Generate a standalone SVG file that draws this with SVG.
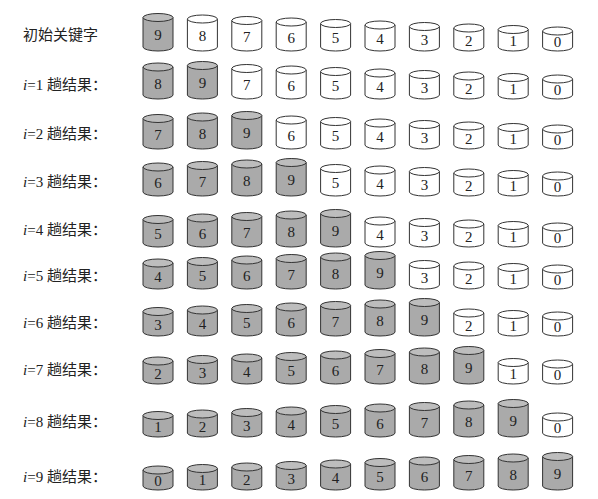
<svg xmlns="http://www.w3.org/2000/svg" width="598" height="499" viewBox="0 0 598 499">
<style>
.cy path{fill:var(--body,#fff);stroke:#333;stroke-width:1}
.cy ellipse{fill:var(--top,#fff);stroke:#333;stroke-width:1}
.g{--body:#aaaaaa;--top:#bdbdbd}
.w{--body:#ffffff;--top:#ffffff}
text.n{font-family:"Liberation Serif",serif;font-size:15px;text-anchor:middle;fill:#222}
text.lb{font-family:"Liberation Serif","Noto Sans CJK SC",serif;font-size:15px;fill:#222}
</style>
<defs>
<g id="v0" class="cy"><path d="M-15,-20 V-4 A15 4 0 0 0 15,-4 V-20"/><ellipse cy="-20" rx="15" ry="4"/></g>
<g id="v1" class="cy"><path d="M-15,-21.5 V-4 A15 4 0 0 0 15,-4 V-21.5"/><ellipse cy="-21.5" rx="15" ry="4"/></g>
<g id="v2" class="cy"><path d="M-15,-23 V-4 A15 4 0 0 0 15,-4 V-23"/><ellipse cy="-23" rx="15" ry="4"/></g>
<g id="v3" class="cy"><path d="M-15,-24.5 V-4 A15 4 0 0 0 15,-4 V-24.5"/><ellipse cy="-24.5" rx="15" ry="4"/></g>
<g id="v4" class="cy"><path d="M-15,-26 V-4 A15 4 0 0 0 15,-4 V-26"/><ellipse cy="-26" rx="15" ry="4"/></g>
<g id="v5" class="cy"><path d="M-15,-27.5 V-4 A15 4 0 0 0 15,-4 V-27.5"/><ellipse cy="-27.5" rx="15" ry="4"/></g>
<g id="v6" class="cy"><path d="M-15,-29 V-4 A15 4 0 0 0 15,-4 V-29"/><ellipse cy="-29" rx="15" ry="4"/></g>
<g id="v7" class="cy"><path d="M-15,-30.5 V-4 A15 4 0 0 0 15,-4 V-30.5"/><ellipse cy="-30.5" rx="15" ry="4"/></g>
<g id="v8" class="cy"><path d="M-15,-32 V-4 A15 4 0 0 0 15,-4 V-32"/><ellipse cy="-32" rx="15" ry="4"/></g>
<g id="v9" class="cy"><path d="M-15,-33.5 V-4 A15 4 0 0 0 15,-4 V-33.5"/><ellipse cy="-33.5" rx="15" ry="4"/></g>
</defs>
<rect width="598" height="499" fill="#fff"/>

<g id="labels">
<text class="lb" x="23" y="40">初始关键字</text>
<text class="lb" x="23" y="90"><tspan font-style="italic">i</tspan>=1 趟结果：</text>
<text class="lb" x="23" y="139"><tspan font-style="italic">i</tspan>=2 趟结果：</text>
<text class="lb" x="23" y="187"><tspan font-style="italic">i</tspan>=3 趟结果：</text>
<text class="lb" x="23" y="235"><tspan font-style="italic">i</tspan>=4 趟结果：</text>
<text class="lb" x="23" y="281"><tspan font-style="italic">i</tspan>=5 趟结果：</text>
<text class="lb" x="23" y="328"><tspan font-style="italic">i</tspan>=6 趟结果：</text>
<text class="lb" x="23" y="375"><tspan font-style="italic">i</tspan>=7 趟结果：</text>
<text class="lb" x="23" y="427"><tspan font-style="italic">i</tspan>=8 趟结果：</text>
<text class="lb" x="23" y="482"><tspan font-style="italic">i</tspan>=9 趟结果：</text>
</g>

<g id="row0">
<g id="r0c0" class="g" transform="translate(158,51)"><use href="#v9"/><text class="n" y="-10.75">9</text></g>
<g id="r0c1" class="w" transform="translate(202.4,51)"><use href="#v8"/><text class="n" y="-10">8</text></g>
<g id="r0c2" class="w" transform="translate(246.8,51)"><use href="#v7"/><text class="n" y="-9.25">7</text></g>
<g id="r0c3" class="w" transform="translate(291.2,51)"><use href="#v6"/><text class="n" y="-8.5">6</text></g>
<g id="r0c4" class="w" transform="translate(335.6,51)"><use href="#v5"/><text class="n" y="-7.75">5</text></g>
<g id="r0c5" class="w" transform="translate(380,51)"><use href="#v4"/><text class="n" y="-7">4</text></g>
<g id="r0c6" class="w" transform="translate(424.4,51)"><use href="#v3"/><text class="n" y="-6.25">3</text></g>
<g id="r0c7" class="w" transform="translate(468.8,51)"><use href="#v2"/><text class="n" y="-5.5">2</text></g>
<g id="r0c8" class="w" transform="translate(513.2,51)"><use href="#v1"/><text class="n" y="-4.75">1</text></g>
<g id="r0c9" class="w" transform="translate(557.6,51)"><use href="#v0"/><text class="n" y="-4">0</text></g>
</g>

<g id="row1">
<g id="r1c0" class="g" transform="translate(158,99)"><use href="#v8"/><text class="n" y="-10">8</text></g>
<g id="r1c1" class="g" transform="translate(202.4,99)"><use href="#v9"/><text class="n" y="-10.75">9</text></g>
<g id="r1c2" class="w" transform="translate(246.8,99)"><use href="#v7"/><text class="n" y="-9.25">7</text></g>
<g id="r1c3" class="w" transform="translate(291.2,99)"><use href="#v6"/><text class="n" y="-8.5">6</text></g>
<g id="r1c4" class="w" transform="translate(335.6,99)"><use href="#v5"/><text class="n" y="-7.75">5</text></g>
<g id="r1c5" class="w" transform="translate(380,99)"><use href="#v4"/><text class="n" y="-7">4</text></g>
<g id="r1c6" class="w" transform="translate(424.4,99)"><use href="#v3"/><text class="n" y="-6.25">3</text></g>
<g id="r1c7" class="w" transform="translate(468.8,99)"><use href="#v2"/><text class="n" y="-5.5">2</text></g>
<g id="r1c8" class="w" transform="translate(513.2,99)"><use href="#v1"/><text class="n" y="-4.75">1</text></g>
<g id="r1c9" class="w" transform="translate(557.6,99)"><use href="#v0"/><text class="n" y="-4">0</text></g>
</g>

<g id="row2">
<g id="r2c0" class="g" transform="translate(158,149)"><use href="#v7"/><text class="n" y="-9.25">7</text></g>
<g id="r2c1" class="g" transform="translate(202.4,149)"><use href="#v8"/><text class="n" y="-10">8</text></g>
<g id="r2c2" class="g" transform="translate(246.8,149)"><use href="#v9"/><text class="n" y="-10.75">9</text></g>
<g id="r2c3" class="w" transform="translate(291.2,149)"><use href="#v6"/><text class="n" y="-8.5">6</text></g>
<g id="r2c4" class="w" transform="translate(335.6,149)"><use href="#v5"/><text class="n" y="-7.75">5</text></g>
<g id="r2c5" class="w" transform="translate(380,149)"><use href="#v4"/><text class="n" y="-7">4</text></g>
<g id="r2c6" class="w" transform="translate(424.4,149)"><use href="#v3"/><text class="n" y="-6.25">3</text></g>
<g id="r2c7" class="w" transform="translate(468.8,149)"><use href="#v2"/><text class="n" y="-5.5">2</text></g>
<g id="r2c8" class="w" transform="translate(513.2,149)"><use href="#v1"/><text class="n" y="-4.75">1</text></g>
<g id="r2c9" class="w" transform="translate(557.6,149)"><use href="#v0"/><text class="n" y="-4">0</text></g>
</g>

<g id="row3">
<g id="r3c0" class="g" transform="translate(158,196)"><use href="#v6"/><text class="n" y="-8.5">6</text></g>
<g id="r3c1" class="g" transform="translate(202.4,196)"><use href="#v7"/><text class="n" y="-9.25">7</text></g>
<g id="r3c2" class="g" transform="translate(246.8,196)"><use href="#v8"/><text class="n" y="-10">8</text></g>
<g id="r3c3" class="g" transform="translate(291.2,196)"><use href="#v9"/><text class="n" y="-10.75">9</text></g>
<g id="r3c4" class="w" transform="translate(335.6,196)"><use href="#v5"/><text class="n" y="-7.75">5</text></g>
<g id="r3c5" class="w" transform="translate(380,196)"><use href="#v4"/><text class="n" y="-7">4</text></g>
<g id="r3c6" class="w" transform="translate(424.4,196)"><use href="#v3"/><text class="n" y="-6.25">3</text></g>
<g id="r3c7" class="w" transform="translate(468.8,196)"><use href="#v2"/><text class="n" y="-5.5">2</text></g>
<g id="r3c8" class="w" transform="translate(513.2,196)"><use href="#v1"/><text class="n" y="-4.75">1</text></g>
<g id="r3c9" class="w" transform="translate(557.6,196)"><use href="#v0"/><text class="n" y="-4">0</text></g>
</g>

<g id="row4">
<g id="r4c0" class="g" transform="translate(158,247)"><use href="#v5"/><text class="n" y="-7.75">5</text></g>
<g id="r4c1" class="g" transform="translate(202.4,247)"><use href="#v6"/><text class="n" y="-8.5">6</text></g>
<g id="r4c2" class="g" transform="translate(246.8,247)"><use href="#v7"/><text class="n" y="-9.25">7</text></g>
<g id="r4c3" class="g" transform="translate(291.2,247)"><use href="#v8"/><text class="n" y="-10">8</text></g>
<g id="r4c4" class="g" transform="translate(335.6,247)"><use href="#v9"/><text class="n" y="-10.75">9</text></g>
<g id="r4c5" class="w" transform="translate(380,247)"><use href="#v4"/><text class="n" y="-7">4</text></g>
<g id="r4c6" class="w" transform="translate(424.4,247)"><use href="#v3"/><text class="n" y="-6.25">3</text></g>
<g id="r4c7" class="w" transform="translate(468.8,247)"><use href="#v2"/><text class="n" y="-5.5">2</text></g>
<g id="r4c8" class="w" transform="translate(513.2,247)"><use href="#v1"/><text class="n" y="-4.75">1</text></g>
<g id="r4c9" class="w" transform="translate(557.6,247)"><use href="#v0"/><text class="n" y="-4">0</text></g>
</g>

<g id="row5">
<g id="r5c0" class="g" transform="translate(158,289)"><use href="#v4"/><text class="n" y="-7">4</text></g>
<g id="r5c1" class="g" transform="translate(202.4,289)"><use href="#v5"/><text class="n" y="-7.75">5</text></g>
<g id="r5c2" class="g" transform="translate(246.8,289)"><use href="#v6"/><text class="n" y="-8.5">6</text></g>
<g id="r5c3" class="g" transform="translate(291.2,289)"><use href="#v7"/><text class="n" y="-9.25">7</text></g>
<g id="r5c4" class="g" transform="translate(335.6,289)"><use href="#v8"/><text class="n" y="-10">8</text></g>
<g id="r5c5" class="g" transform="translate(380,289)"><use href="#v9"/><text class="n" y="-10.75">9</text></g>
<g id="r5c6" class="w" transform="translate(424.4,289)"><use href="#v3"/><text class="n" y="-6.25">3</text></g>
<g id="r5c7" class="w" transform="translate(468.8,289)"><use href="#v2"/><text class="n" y="-5.5">2</text></g>
<g id="r5c8" class="w" transform="translate(513.2,289)"><use href="#v1"/><text class="n" y="-4.75">1</text></g>
<g id="r5c9" class="w" transform="translate(557.6,289)"><use href="#v0"/><text class="n" y="-4">0</text></g>
</g>

<g id="row6">
<g id="r6c0" class="g" transform="translate(158,336)"><use href="#v3"/><text class="n" y="-6.25">3</text></g>
<g id="r6c1" class="g" transform="translate(202.4,336)"><use href="#v4"/><text class="n" y="-7">4</text></g>
<g id="r6c2" class="g" transform="translate(246.8,336)"><use href="#v5"/><text class="n" y="-7.75">5</text></g>
<g id="r6c3" class="g" transform="translate(291.2,336)"><use href="#v6"/><text class="n" y="-8.5">6</text></g>
<g id="r6c4" class="g" transform="translate(335.6,336)"><use href="#v7"/><text class="n" y="-9.25">7</text></g>
<g id="r6c5" class="g" transform="translate(380,336)"><use href="#v8"/><text class="n" y="-10">8</text></g>
<g id="r6c6" class="g" transform="translate(424.4,336)"><use href="#v9"/><text class="n" y="-10.75">9</text></g>
<g id="r6c7" class="w" transform="translate(468.8,336)"><use href="#v2"/><text class="n" y="-5.5">2</text></g>
<g id="r6c8" class="w" transform="translate(513.2,336)"><use href="#v1"/><text class="n" y="-4.75">1</text></g>
<g id="r6c9" class="w" transform="translate(557.6,336)"><use href="#v0"/><text class="n" y="-4">0</text></g>
</g>

<g id="row7">
<g id="r7c0" class="g" transform="translate(158,384)"><use href="#v2"/><text class="n" y="-5.5">2</text></g>
<g id="r7c1" class="g" transform="translate(202.4,384)"><use href="#v3"/><text class="n" y="-6.25">3</text></g>
<g id="r7c2" class="g" transform="translate(246.8,384)"><use href="#v4"/><text class="n" y="-7">4</text></g>
<g id="r7c3" class="g" transform="translate(291.2,384)"><use href="#v5"/><text class="n" y="-7.75">5</text></g>
<g id="r7c4" class="g" transform="translate(335.6,384)"><use href="#v6"/><text class="n" y="-8.5">6</text></g>
<g id="r7c5" class="g" transform="translate(380,384)"><use href="#v7"/><text class="n" y="-9.25">7</text></g>
<g id="r7c6" class="g" transform="translate(424.4,384)"><use href="#v8"/><text class="n" y="-10">8</text></g>
<g id="r7c7" class="g" transform="translate(468.8,384)"><use href="#v9"/><text class="n" y="-10.75">9</text></g>
<g id="r7c8" class="w" transform="translate(513.2,384)"><use href="#v1"/><text class="n" y="-4.75">1</text></g>
<g id="r7c9" class="w" transform="translate(557.6,384)"><use href="#v0"/><text class="n" y="-4">0</text></g>
</g>

<g id="row8">
<g id="r8c0" class="g" transform="translate(158,437)"><use href="#v1"/><text class="n" y="-4.75">1</text></g>
<g id="r8c1" class="g" transform="translate(202.4,437)"><use href="#v2"/><text class="n" y="-5.5">2</text></g>
<g id="r8c2" class="g" transform="translate(246.8,437)"><use href="#v3"/><text class="n" y="-6.25">3</text></g>
<g id="r8c3" class="g" transform="translate(291.2,437)"><use href="#v4"/><text class="n" y="-7">4</text></g>
<g id="r8c4" class="g" transform="translate(335.6,437)"><use href="#v5"/><text class="n" y="-7.75">5</text></g>
<g id="r8c5" class="g" transform="translate(380,437)"><use href="#v6"/><text class="n" y="-8.5">6</text></g>
<g id="r8c6" class="g" transform="translate(424.4,437)"><use href="#v7"/><text class="n" y="-9.25">7</text></g>
<g id="r8c7" class="g" transform="translate(468.8,437)"><use href="#v8"/><text class="n" y="-10">8</text></g>
<g id="r8c8" class="g" transform="translate(513.2,437)"><use href="#v9"/><text class="n" y="-10.75">9</text></g>
<g id="r8c9" class="w" transform="translate(557.6,437)"><use href="#v0"/><text class="n" y="-4">0</text></g>
</g>

<g id="row9">
<g id="r9c0" class="g" transform="translate(158,490)"><use href="#v0"/><text class="n" y="-4">0</text></g>
<g id="r9c1" class="g" transform="translate(202.4,490)"><use href="#v1"/><text class="n" y="-4.75">1</text></g>
<g id="r9c2" class="g" transform="translate(246.8,490)"><use href="#v2"/><text class="n" y="-5.5">2</text></g>
<g id="r9c3" class="g" transform="translate(291.2,490)"><use href="#v3"/><text class="n" y="-6.25">3</text></g>
<g id="r9c4" class="g" transform="translate(335.6,490)"><use href="#v4"/><text class="n" y="-7">4</text></g>
<g id="r9c5" class="g" transform="translate(380,490)"><use href="#v5"/><text class="n" y="-7.75">5</text></g>
<g id="r9c6" class="g" transform="translate(424.4,490)"><use href="#v6"/><text class="n" y="-8.5">6</text></g>
<g id="r9c7" class="g" transform="translate(468.8,490)"><use href="#v7"/><text class="n" y="-9.25">7</text></g>
<g id="r9c8" class="g" transform="translate(513.2,490)"><use href="#v8"/><text class="n" y="-10">8</text></g>
<g id="r9c9" class="g" transform="translate(557.6,490)"><use href="#v9"/><text class="n" y="-10.75">9</text></g>
</g>
</svg>
